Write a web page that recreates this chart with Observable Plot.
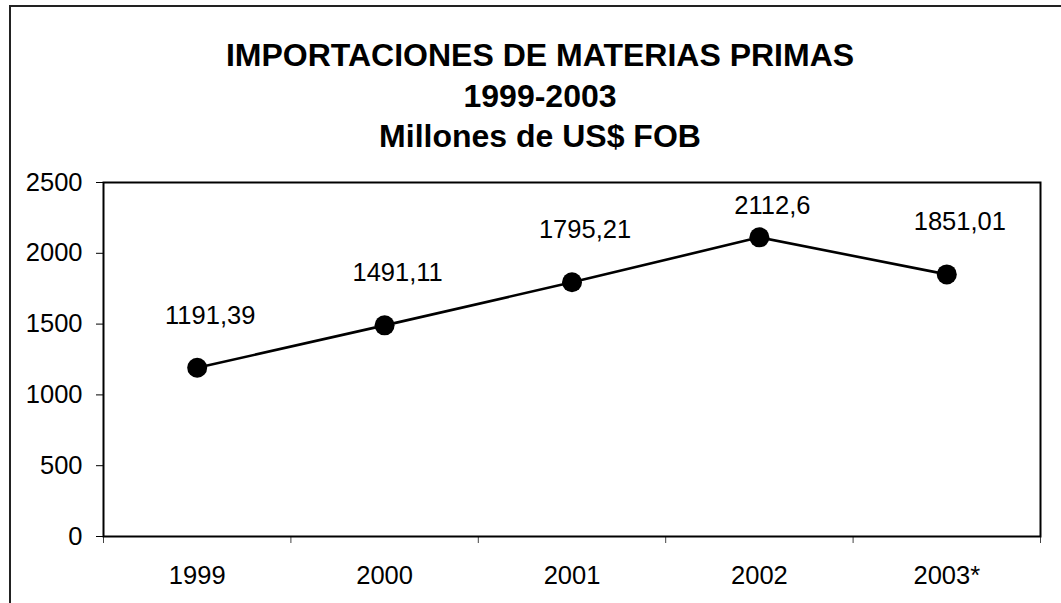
<!DOCTYPE html>
<html>
<head>
<meta charset="utf-8">
<script src="https://cdn.jsdelivr.net/npm/d3@7"></script>
<script src="https://cdn.jsdelivr.net/npm/@observablehq/plot@0.6"></script>
<style>
  html, body { margin: 0; padding: 0; background: #fff; overflow: hidden; }
  #wrap { position: relative; width: 1061px; height: 603px; overflow: hidden; background: #fff; }
  #border { position: absolute; left: 9px; top: 5px; width: 1100px; height: 700px; border: 2px solid #222; box-sizing: border-box; }
  #title { position: absolute; left: 0; top: 35px; width: 1080px; text-align: center;
           font-family: "Liberation Sans", Arial, sans-serif; font-weight: bold; font-size: 32px; line-height: 40.5px; color: #000; }
  #chart { position: absolute; left: 0; top: 0; }
</style>
</head>
<body>
<div id="wrap">
  <div id="border"></div>
  <div id="title"></div>
  <div id="chart"></div>
</div>
<script>
const titleLines = ["IMPORTACIONES DE MATERIAS PRIMAS", "1999-2003", "Millones de US$ FOB"];
const categories = ["1999", "2000", "2001", "2002", "2003*"];
const values = [1191.39, 1491.11, 1795.21, 2112.6, 1851.01];
const yTicks = [0, 500, 1000, 1500, 2000, 2500];

document.getElementById("title").innerHTML = titleLines.map(t => `<div>${t}</div>`).join("");

const H = 603, MT = 182, MB = 67;
const yMax = 2500;
const pxToVal = yMax / (H - MT - MB);
const labelGap = 44;      // px between point centre and label baseline
const labelTopLimit = 31; // px below plot top for the label baseline (kept inside the plot area)

const data = categories.map((c, i) => ({
  i, cat: c, value: values[i],
  label: String(values[i]).replace(".", ","),
  labelY: Math.min(values[i] + labelGap * pxToVal, yMax - labelTopLimit * pxToVal)
}));
const centers = categories.map((c, i) => i);
const bounds = d3.range(categories.length + 1).map(i => i - 0.5);

const fs = 25.5;
const chart = Plot.plot({
  width: 1061,
  height: H,
  marginTop: MT,
  marginBottom: MB,
  marginLeft: 103,
  marginRight: 21,
  style: {fontFamily: "'Liberation Sans', Arial, sans-serif", fontSize: fs + "px", color: "#000", background: "transparent"},
  x: {type: "linear", domain: [-0.5, categories.length - 0.5]},
  y: {domain: [0, yMax]},
  marks: [
    Plot.axisY({ticks: yTicks, tickSize: 7, tickPadding: 14, tickFormat: d => String(d), label: null, fontSize: fs, stroke: "#000"}),
    Plot.axisX({ticks: bounds, tickSize: 7, tickFormat: () => "", label: null, stroke: "#444"}),
    Plot.axisX({ticks: centers, tickSize: 0, tickPadding: 29, tickFormat: i => categories[i], label: null, fontSize: fs}),
    Plot.frame({stroke: "#000", strokeWidth: 2}),
    Plot.line(data, {x: "i", y: "value", stroke: "#000", strokeWidth: 2.6}),
    Plot.dot(data, {x: "i", y: "value", r: 10, fill: "#000", stroke: "none"}),
    Plot.text(data, {x: "i", y: "labelY", text: "label", lineAnchor: "bottom", dx: 13, fontSize: fs, fill: "#000"})
  ]
});
document.getElementById("chart").appendChild(chart);
</script>
</body>
</html>
